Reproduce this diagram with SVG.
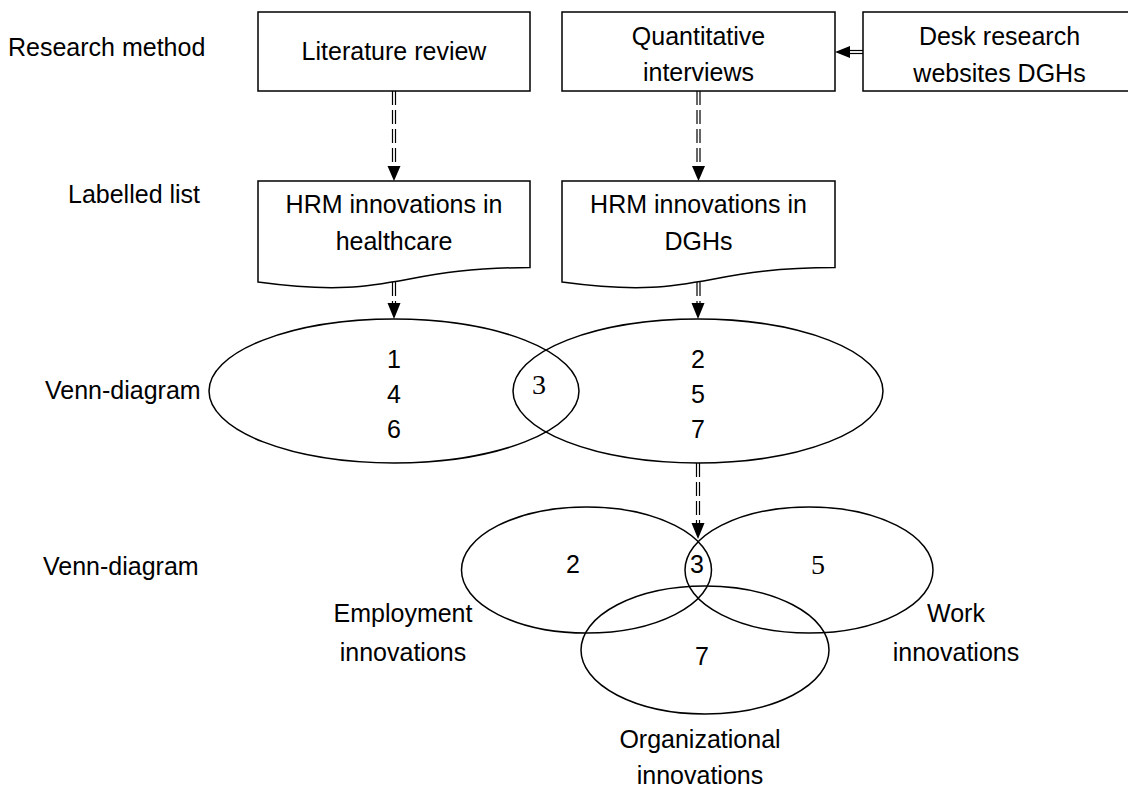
<svg xmlns="http://www.w3.org/2000/svg" width="1128" height="787" viewBox="0 0 1128 787">
<style>
.box{fill:#fff;stroke:#000;stroke-width:1.5}
.shape{fill:none;stroke:#000;stroke-width:1.5}
.t{font-family:"Liberation Sans",Arial,sans-serif;font-size:25px;fill:#000}
.c{text-anchor:middle}
.s{font-family:"Liberation Serif","Times New Roman",serif;font-size:28px;fill:#000;text-anchor:middle}
.dl{stroke:#000;stroke-width:1.2;stroke-dasharray:14 5;fill:none}
.hd{fill:#000;stroke:none}
</style>
<rect width="1128" height="787" fill="#fff"/>

<g id="row-labels">
<text class="t" x="8" y="56">Research method</text>
<text class="t" x="68" y="203">Labelled list</text>
<text class="t" x="45" y="399">Venn-diagram</text>
<text class="t" x="43" y="575">Venn-diagram</text>
</g>

<g id="literature-review">
<rect class="box" x="258" y="12" width="272" height="79"/>
<text class="t c" x="394" y="60">Literature review</text>
</g>

<g id="quantitative-interviews">
<rect class="box" x="562" y="12" width="273" height="79"/>
<text class="t c" x="698.5" y="45">Quantitative</text>
<text class="t c" x="698.5" y="81">interviews</text>
</g>

<g id="desk-research">
<rect class="box" x="863" y="12" width="273" height="79"/>
<text class="t c" x="999.5" y="45">Desk research</text>
<text class="t c" x="999.5" y="82">websites DGHs</text>
</g>

<g id="hrm-healthcare">
<path class="box" d="M258,181 H530 V267.6 C394,267.6 394,300.6 258,282 Z"/>
<text class="t c" x="394" y="213">HRM innovations in</text>
<text class="t c" x="394" y="250">healthcare</text>
</g>

<g id="hrm-dghs">
<path class="box" d="M562,181 H835 V267.6 C698.5,267.6 698.5,300.6 562,282 Z"/>
<text class="t c" x="698.5" y="213">HRM innovations in</text>
<text class="t c" x="698.5" y="250">DGHs</text>
</g>

<g id="venn-1">
<ellipse class="shape" cx="394" cy="391" rx="185" ry="72"/>
<ellipse class="shape" cx="698" cy="391" rx="185" ry="72"/>
<text class="t c" x="394" y="368">1</text>
<text class="t c" x="394" y="403">4</text>
<text class="t c" x="394" y="438">6</text>
<text class="s" x="539" y="394">3</text>
<text class="t c" x="698" y="368">2</text>
<text class="t c" x="698" y="403">5</text>
<text class="t c" x="698" y="438">7</text>
</g>

<g id="venn-2">
<ellipse class="shape" cx="586.5" cy="570" rx="125" ry="63"/>
<ellipse class="shape" cx="809" cy="570" rx="124" ry="63"/>
<ellipse class="shape" cx="705" cy="650" rx="124" ry="64"/>
<text class="t c" x="573" y="573">2</text>
<text class="t c" x="697" y="573">3</text>
<text class="s" x="818" y="574">5</text>
<text class="t c" x="702" y="665">7</text>
<text class="t c" x="403" y="622">Employment</text>
<text class="t c" x="403" y="661">innovations</text>
<text class="t c" x="956" y="622">Work</text>
<text class="t c" x="956" y="661">innovations</text>
<text class="t c" x="700" y="748">Organizational</text>
<text class="t c" x="700" y="784">innovations</text>
</g>

<g id="connectors">
<!-- Literature review -> HRM healthcare -->
<line class="dl" x1="392.5" y1="91" x2="392.5" y2="168"/>
<line class="dl" x1="395.5" y1="91" x2="395.5" y2="168"/>
<polygon class="hd" points="387.5,166 400.5,166 394,181"/>
<!-- Quantitative -> HRM DGHs -->
<line class="dl" x1="697" y1="91" x2="697" y2="168"/>
<line class="dl" x1="700" y1="91" x2="700" y2="168"/>
<polygon class="hd" points="692,166 705,166 698.5,181"/>
<!-- Desk research -> Quantitative -->
<line x1="863" y1="50.5" x2="847" y2="50.5" stroke="#000" stroke-width="1.2"/>
<line x1="863" y1="53.5" x2="847" y2="53.5" stroke="#000" stroke-width="1.2"/>
<polygon class="hd" points="850,46 850,58 835,52"/>
<!-- HRM healthcare -> Venn -->
<line class="dl" x1="392.5" y1="282" x2="392.5" y2="306"/>
<line class="dl" x1="395.5" y1="282" x2="395.5" y2="306"/>
<polygon class="hd" points="387.5,303 400.5,303 394,319"/>
<!-- HRM DGHs -> Venn -->
<line class="dl" x1="697" y1="282" x2="697" y2="306"/>
<line class="dl" x1="700" y1="282" x2="700" y2="306"/>
<polygon class="hd" points="691.5,303 704.5,303 698,319"/>
<!-- Venn 1 -> Venn 2 -->
<line class="dl" x1="696.5" y1="463" x2="696.5" y2="526"/>
<line class="dl" x1="699.5" y1="463" x2="699.5" y2="526"/>
<polygon class="hd" points="691.5,523 704.5,523 698,539"/>
</g>
</svg>
